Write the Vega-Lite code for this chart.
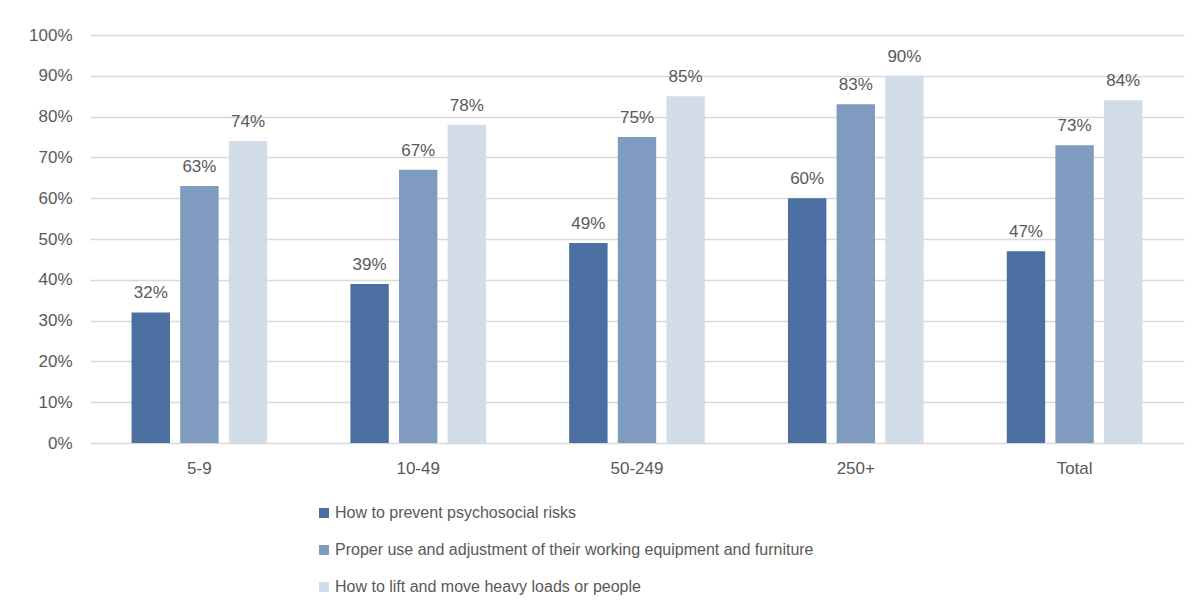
{
  "$schema": "https://vega.github.io/schema/vega-lite/v6.json",
  "autosize": {"type": "none"},
  "padding": {"left": 90, "top": 35, "right": 14, "bottom": 165},
  "width": 1094,
  "height": 408,
  "background": "white",
  "data": {
    "values": [
      {"size": "5-9", "topic": "How to prevent psychosocial risks", "value": 0.32},
      {"size": "5-9", "topic": "Proper use and adjustment of their working equipment and furniture", "value": 0.63},
      {"size": "5-9", "topic": "How to lift and move heavy loads or people", "value": 0.74},
      {"size": "10-49", "topic": "How to prevent psychosocial risks", "value": 0.39},
      {"size": "10-49", "topic": "Proper use and adjustment of their working equipment and furniture", "value": 0.67},
      {"size": "10-49", "topic": "How to lift and move heavy loads or people", "value": 0.78},
      {"size": "50-249", "topic": "How to prevent psychosocial risks", "value": 0.49},
      {"size": "50-249", "topic": "Proper use and adjustment of their working equipment and furniture", "value": 0.75},
      {"size": "50-249", "topic": "How to lift and move heavy loads or people", "value": 0.85},
      {"size": "250+", "topic": "How to prevent psychosocial risks", "value": 0.60},
      {"size": "250+", "topic": "Proper use and adjustment of their working equipment and furniture", "value": 0.83},
      {"size": "250+", "topic": "How to lift and move heavy loads or people", "value": 0.90},
      {"size": "Total", "topic": "How to prevent psychosocial risks", "value": 0.47},
      {"size": "Total", "topic": "Proper use and adjustment of their working equipment and furniture", "value": 0.73},
      {"size": "Total", "topic": "How to lift and move heavy loads or people", "value": 0.84}
    ]
  },
  "encoding": {
    "x": {
      "field": "size", "type": "nominal", "sort": null,
      "scale": {"paddingInner": 0.38, "paddingOuter": 0.19},
      "axis": {"title": null, "labelAngle": 0, "domain": false, "ticks": false, "labelPadding": 17, "labelFontSize": 17, "labelColor": "#595959", "labelFont": "Liberation Sans"}
    },
    "xOffset": {
      "field": "topic", "type": "nominal", "sort": null,
      "scale": {"paddingInner": 0.21, "paddingOuter": 0}
    },
    "y": {
      "field": "value", "type": "quantitative",
      "scale": {"domain": [0, 1], "nice": false},
      "axis": {"title": null, "format": ".0%", "values": [0,0.1,0.2,0.3,0.4,0.5,0.6,0.7,0.8,0.9,1.0], "domain": false, "ticks": false, "labelPadding": 18, "labelFontSize": 17, "labelColor": "#595959", "labelFont": "Liberation Sans", "gridColor": "#d9d9d9", "gridWidth": 1.5}
    }
  },
  "layer": [
    {
      "mark": {"type": "bar"},
      "encoding": {
        "color": {
          "field": "topic", "type": "nominal", "sort": null,
          "scale": {
            "domain": ["How to prevent psychosocial risks", "Proper use and adjustment of their working equipment and furniture", "How to lift and move heavy loads or people"],
            "range": ["#4a6fa0", "#7f9bbf", "#d3dde9"]
          },
          "legend": {
            "title": null, "orient": "none", "direction": "vertical",
            "legendX": 226, "legendY": 470,
            "symbolType": "square", "symbolSize": 100, "symbolStrokeWidth": 0,
            "labelFontSize": 16, "labelColor": "#595959", "labelFont": "Liberation Sans",
            "labelOffset": 3, "rowPadding": 21, "labelLimit": 800
          }
        }
      }
    },
    {
      "mark": {"type": "text", "baseline": "alphabetic", "dy": -14, "fontSize": 17, "font": "Liberation Sans", "color": "#595959"},
      "encoding": {
        "text": {"field": "value", "type": "quantitative", "format": ".0%"}
      }
    }
  ],
  "config": {"view": {"stroke": null}}
}
